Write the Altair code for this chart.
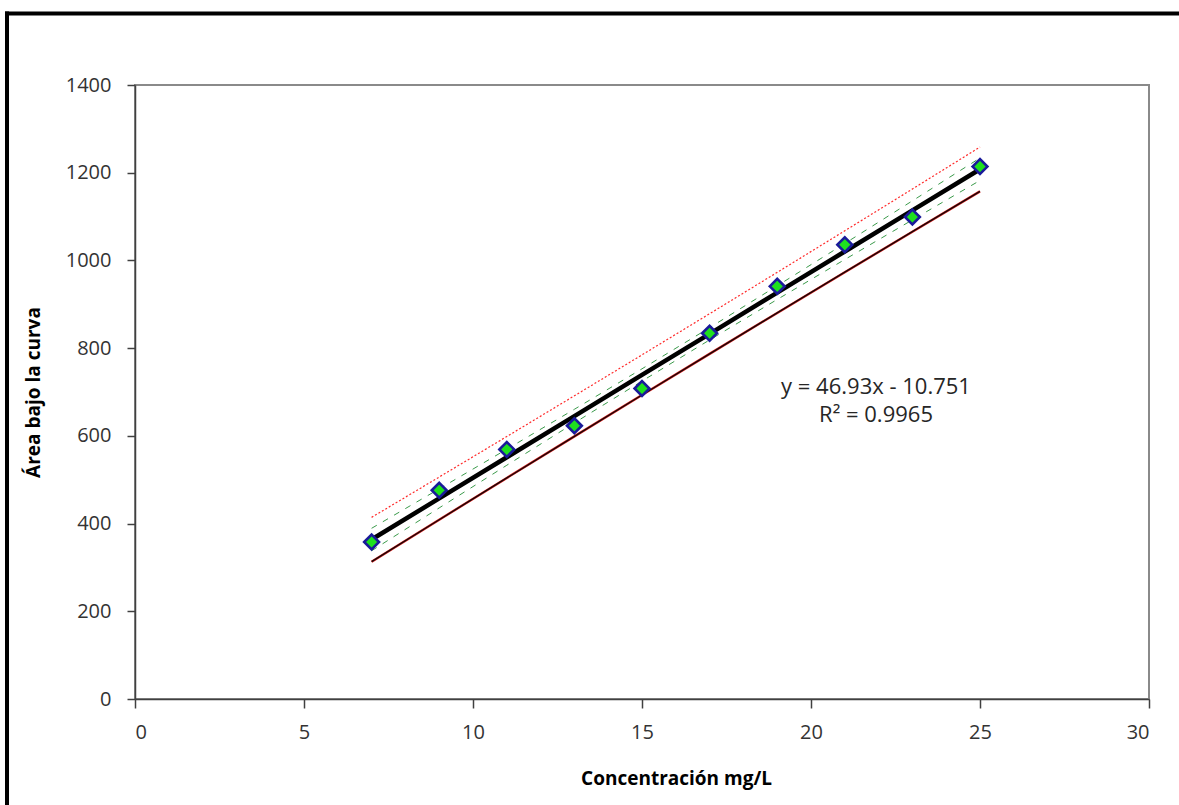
import altair as alt
import numpy as np
import pandas as pd

# Data
conc = [7, 9, 11, 13, 15, 17, 19, 21, 23, 25]
area = [358, 476, 569, 623, 708, 834, 941, 1036, 1099, 1214]
eq_lines = ["y = 46.93x - 10.751", "R² = 0.9965"]
x_ticks = [0, 5, 10, 15, 20, 25, 30]
y_ticks = [0, 200, 400, 600, 800, 1000, 1200, 1400]

# Least-squares fit with confidence and prediction bands (derived from the points)
x = np.array(conc, dtype=float)
y = np.array(area, dtype=float)
n = len(x)
b, a = np.polyfit(x, y, 1)
fit = a + b * x
s = np.sqrt(np.sum((y - fit) ** 2) / (n - 2))
t = 2.306  # t(0.975, 8)
sxx = np.sum((x - x.mean()) ** 2)
ci = t * s * np.sqrt(1 / n + (x - x.mean()) ** 2 / sxx)
pi = t * s * np.sqrt(1 + 1 / n + (x - x.mean()) ** 2 / sxx)

df = pd.DataFrame({"x": conc, "y": area, "fit": fit,
                   "ci_lo": fit - ci, "ci_hi": fit + ci,
                   "pi_lo": fit - pi, "pi_hi": fit + pi})

W, H = 1014, 614
FONT = "Open Sans"

xs = alt.Scale(domain=[0, 30], nice=False, zero=False)
ys = alt.Scale(domain=[0, 1400], nice=False)

xax = alt.Axis(values=x_ticks, grid=False, tickSize=9, labelPadding=14, format="d",
               title="Concentración mg/L", titlePadding=27, titleX=541,
               titleAlign="center")
yax = alt.Axis(values=y_ticks, grid=False, tickSize=8, labelPadding=16, format="d",
               title="Área bajo la curva", titlePadding=22)

base = alt.Chart(df)

def band(col, color, width, dash=None):
    kw = dict(color=color, strokeWidth=width)
    if dash:
        kw["strokeDash"] = dash
    return base.mark_line(**kw).encode(
        x=alt.X("x:Q", scale=xs, axis=xax),
        y=alt.Y(f"{col}:Q", scale=ys, axis=yax),
    )

pi_hi = band("pi_hi", "#ff2a2a", 1.2, [2, 2])
pi_lo_r = band("pi_lo", "#e02020", 2.4)
pi_lo_k = band("pi_lo", "#150808", 1.4)
ci_hi = band("ci_hi", "#3a9a4a", 1.0, [6, 7])
ci_lo = band("ci_lo", "#3a9a4a", 1.0, [6, 7])
fit_line = band("fit", "#000000", 4.5)

pts = base.mark_point(shape="diamond", filled=True, size=220, fill="#1ee01e",
                      stroke="#1a1a9a", strokeWidth=2.6, opacity=1).encode(
    x=alt.X("x:Q", scale=xs, axis=xax),
    y=alt.Y("y:Q", scale=ys, axis=yax),
)

eq_df = pd.DataFrame({"t": eq_lines})
eq1 = alt.Chart(eq_df).transform_filter(alt.datum.t == eq_lines[0]).mark_text(
    font=FONT, fontSize=22, color="#262626", align="center", baseline="middle").encode(
    text="t:N", x=alt.value(741), y=alt.value(302))
eq2 = alt.Chart(eq_df).transform_filter(alt.datum.t == eq_lines[1]).mark_text(
    font=FONT, fontSize=22, color="#262626", align="center", baseline="middle").encode(
    text="t:N", x=alt.value(741), y=alt.value(330))

frame_df = pd.DataFrame({"k": [0]})
frame_top = alt.Chart(frame_df).mark_rule(color="#000000", strokeWidth=4).encode(
    x=alt.value(-130), x2=alt.value(1044), y=alt.value(-71.5))
frame_left = alt.Chart(frame_df).mark_rule(color="#000000", strokeWidth=4).encode(
    x=alt.value(-128), y=alt.value(-73.5), y2=alt.value(720))

chart = alt.layer(frame_top, frame_left, pi_hi, pi_lo_r, pi_lo_k, ci_hi, ci_lo,
                  fit_line, pts, eq1, eq2).properties(
    width=W, height=H,
    padding={"left": 135, "top": 85, "right": 30, "bottom": 106},
    autosize=alt.AutoSizeParams(type="none"),
    background="#ffffff",
).configure_view(
    stroke="#8a8a8a", strokeWidth=2
).configure_axis(
    domainColor="#404040", domainWidth=1.5, tickColor="#404040", tickWidth=1.5,
    labelFont=FONT, labelFontSize=20, labelColor="#333333",
    titleFont=FONT, titleFontSize=19, titleFontWeight="bold", titleColor="#000000",
)

chart.save("out.html", embed_options={"renderer": "svg", "actions": False})
